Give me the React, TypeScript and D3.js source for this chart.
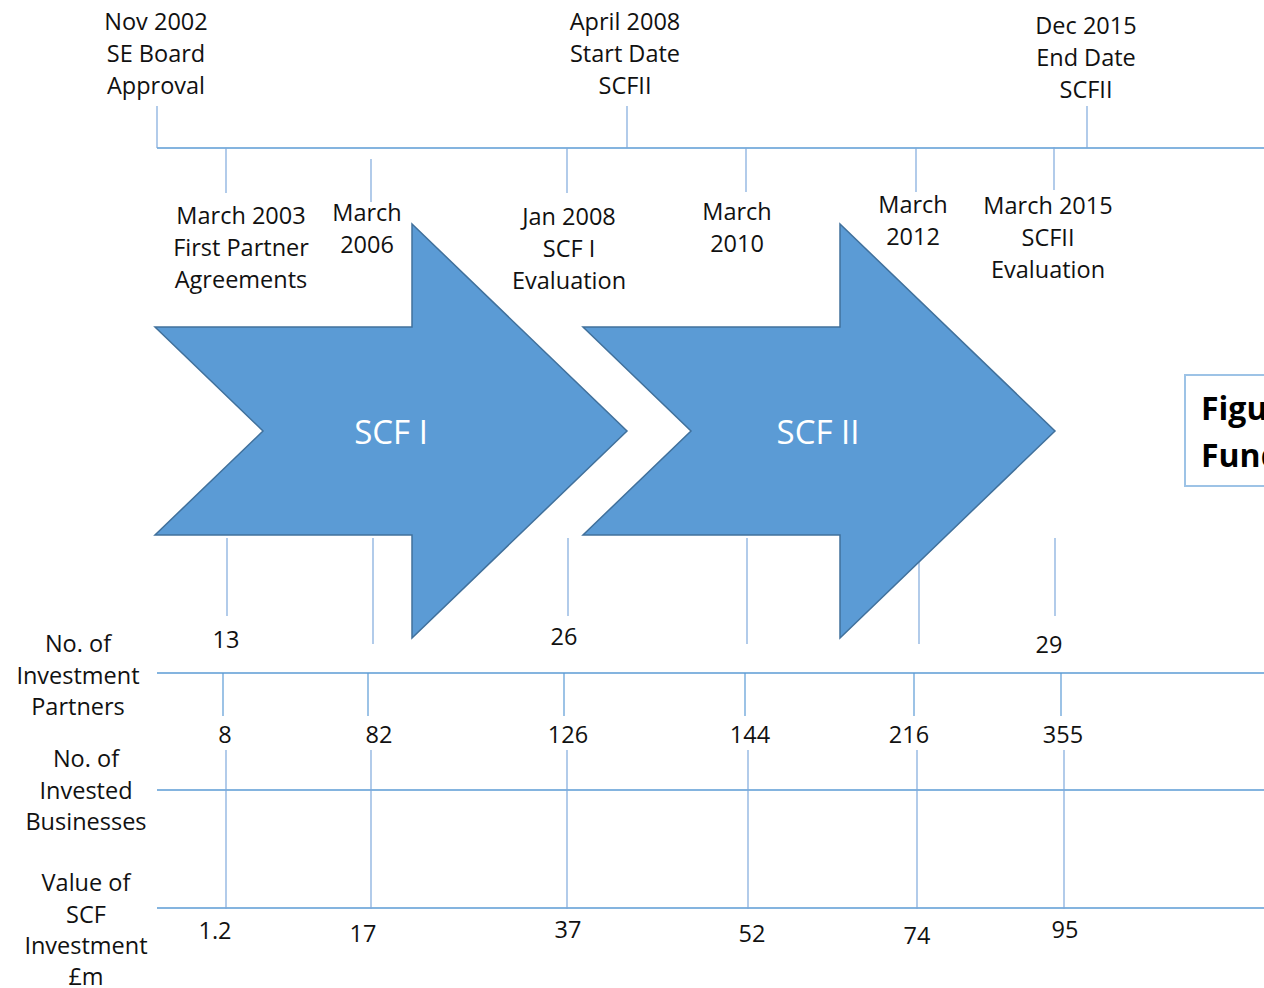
import React from 'react';
import * as d3 from 'd3';

const W = 1264;
const H = 988;
const FONT = '"Open Sans", sans-serif';
const LINE = '#5B9BD5';
const TICK = '#7FA9DC';
const ARROW_FILL = '#5B9BD5';
const ARROW_STROKE = '#41719C';
const TEXT = '#111';

// timeline milestones (left to right)
const milestones = [
  'Nov 2002',
  'March 2003',
  'March 2006',
  'Jan 2008',
  'April 2008',
  'March 2010',
  'March 2012',
  'March 2015',
  'Dec 2015',
];
const milestoneX = [157, 226, 371, 567, 627, 746, 916, 1054, 1087];

// milestones labelled above the line
const aboveDates = ['Nov 2002', 'April 2008', 'Dec 2015'];
const aboveLabels = [
  ['Nov 2002', 'SE Board', 'Approval'],
  ['April 2008', 'Start Date', 'SCFII'],
  ['Dec 2015', 'End Date', 'SCFII'],
];
const aboveLabelY = [22, 22, 26];
const aboveLabelDx = [-1, -2, -1];

// milestones labelled below the line (these are also the data columns)
const columns = ['March 2003', 'March 2006', 'Jan 2008', 'March 2010', 'March 2012', 'March 2015'];
const belowLabels = [
  ['March 2003', 'First Partner', 'Agreements'],
  ['March', '2006'],
  ['Jan 2008', 'SCF I', 'Evaluation'],
  ['March', '2010'],
  ['March', '2012'],
  ['March 2015', 'SCFII', 'Evaluation'],
];
const belowLabelY = [216, 213, 217, 212, 205, 206];
const belowLabelDx = [15, -4, 2, -9, -3, -6];
const belowTickY = [[148, 193], [159, 202], [148, 193], [148, 192], [148, 192], [147, 190]];

// programme phases (arrows), each ending at a milestone
const phases = ['SCF I', 'SCF II'];
const phaseEnd = ['April 2008', 'March 2015'];

// data rows
const rowLabels = [
  ['No. of', 'Investment', 'Partners'],
  ['No. of', 'Invested', 'Businesses'],
  ['Value of', 'SCF', 'Investment', '£m'],
];
const partners = [13, null, 26, null, null, 29];
const businesses = [8, 82, 126, 144, 216, 355];
const investment = [1.2, 17, 37, 52, 74, 95];

// layout for lower rows
const lowerX = [225, 370, 566, 747, 916, 1063];
const partnersDx = [0, 0, -3, 0, 0, -5];
const partnersY = [640, 0, 637, 0, 0, 645];
const businessDx = [0, 9, 2, 3, -7, 0];
const valueDx = [-10, -7, 2, 5, 1, 2];
const valueY = [931, 934, 930, 934, 936, 930];

const rowLineY = [673, 790, 908];
const rowLabelX = [78, 86, 86];
const rowLabelY = [644, 759, 883];
const LH = 31.3;

const fmt = (v: number) => (Number.isInteger(v) ? d3.format('d')(v) : d3.format('.1f')(v));

function arrowPath(tip: number) {
  const cy = 431;
  const len = 472;
  const tail = tip - len;
  const notch = tail + 108;
  const neck = tip - 215;
  const shaft = 104;
  const head = 207;
  const line = d3.line();
  return (
    line([
      [tail, cy - shaft],
      [neck, cy - shaft],
      [neck, cy - head],
      [tip, cy],
      [neck, cy + head],
      [neck, cy + shaft],
      [tail, cy + shaft],
      [notch, cy],
    ]) + 'Z'
  );
}

export default function App() {
  const x = d3.scaleOrdinal<string, number>().domain(milestones).range(milestoneX);
  const col = d3.scaleOrdinal<string, number>().domain(columns).range(lowerX);
  const timelineY = 148;

  const textProps = {
    fontFamily: FONT,
    fontSize: 23.5,
    fill: TEXT,
    textAnchor: 'middle' as const,
  };

  return (
    <svg
      width={W}
      height={H}
      style={{ position: 'absolute', left: 0, top: 0, background: '#fff' }}
    >
      <rect width={W} height={H} fill="#fff" />

      {/* main timeline */}
      <line x1={x('Nov 2002')} x2={W} y1={timelineY} y2={timelineY} stroke={LINE} strokeWidth={1.3} />

      {/* above-line milestones */}
      {aboveDates.map((d, i) => (
        <g key={d}>
          <line x1={x(d)} x2={x(d)} y1={106} y2={timelineY} stroke={TICK} strokeWidth={1.2} />
          {aboveLabels[i].map((t, j) => (
            <text key={j} {...textProps} x={x(d) + aboveLabelDx[i]} y={aboveLabelY[i] + j * 32} dy="0.35em">
              {t}
            </text>
          ))}
        </g>
      ))}

      {/* below-line milestones */}
      {columns.map((d, i) => (
        <g key={d}>
          <line x1={x(d)} x2={x(d)} y1={belowTickY[i][0]} y2={belowTickY[i][1]} stroke={TICK} strokeWidth={1.2} />
          {belowLabels[i].map((t, j) => (
            <text key={j} {...textProps} x={x(d) + belowLabelDx[i]} y={belowLabelY[i] + j * 32} dy="0.35em">
              {t}
            </text>
          ))}
        </g>
      ))}

      {/* partner ticks under arrows */}
      {columns.map((d, i) => (
        <line
          key={'p' + d}
          x1={x(d) + (i === 1 ? 2 : i === 4 ? 3 : 1)}
          x2={x(d) + (i === 1 ? 2 : i === 4 ? 3 : 1)}
          y1={538}
          y2={partners[i] == null ? 644 : 616}
          stroke={TICK}
          strokeWidth={1.2}
        />
      ))}

      {/* arrows */}
      {phases.map((p, i) => {
        const tip = x(phaseEnd[i]) + (i === 1 ? 1 : 0);
        return (
          <g key={p}>
            <path d={arrowPath(tip)} fill={ARROW_FILL} stroke={ARROW_STROKE} strokeWidth={1.5} strokeLinejoin="miter" />
            <text
              x={tip - 236 + (i === 0 ? 0 : -1)}
              y={432}
              dy="0.35em"
              fontFamily={FONT}
              fontSize={33}
              fill="#fff"
              textAnchor="middle"
            >
              {p}
            </text>
          </g>
        );
      })}

      {/* partners values */}
      {columns.map((d, i) =>
        partners[i] == null ? null : (
          <text key={'pv' + d} {...textProps} x={x(d) + partnersDx[i]} y={partnersY[i]} dy="0.35em">
            {fmt(partners[i] as number)}
          </text>
        )
      )}

      {/* row lines */}
      {rowLineY.map((y) => (
        <line key={y} x1={157} x2={W} y1={y} y2={y} stroke={LINE} strokeWidth={1.3} />
      ))}

      {/* businesses */}
      {columns.map((d, i) => (
        <g key={'b' + d}>
          <line x1={col(d) - 2} x2={col(d) - 2} y1={673} y2={716} stroke={LINE} strokeWidth={1.2} />
          <text {...textProps} x={col(d) + businessDx[i]} y={735} dy="0.35em">
            {fmt(businesses[i])}
          </text>
        </g>
      ))}

      {/* investment */}
      {columns.map((d, i) => (
        <g key={'v' + d}>
          <line x1={col(d) + 1} x2={col(d) + 1} y1={750} y2={909} stroke={TICK} strokeWidth={1.2} />
          <text {...textProps} x={col(d) + valueDx[i]} y={valueY[i]} dy="0.35em">
            {fmt(investment[i])}
          </text>
        </g>
      ))}

      {/* row labels */}
      {rowLabels.map((lines, i) =>
        lines.map((t, j) => (
          <text key={i + '-' + j} {...textProps} x={rowLabelX[i]} y={rowLabelY[i] + j * LH} dy="0.35em">
            {t}
          </text>
        ))
      )}

      {/* caption box (cut off at right edge) */}
      <rect x={1185} y={375} width={120} height={111} fill="#fff" stroke="#9DC3E6" strokeWidth={2} />
      <text x={1201} y={420} fontFamily={FONT} fontSize={32} fontWeight="bold" fill="#000">
        Figure
      </text>
      <text x={1201} y={467} fontFamily={FONT} fontSize={32} fontWeight="bold" fill="#000">
        Funding
      </text>
    </svg>
  );
}
